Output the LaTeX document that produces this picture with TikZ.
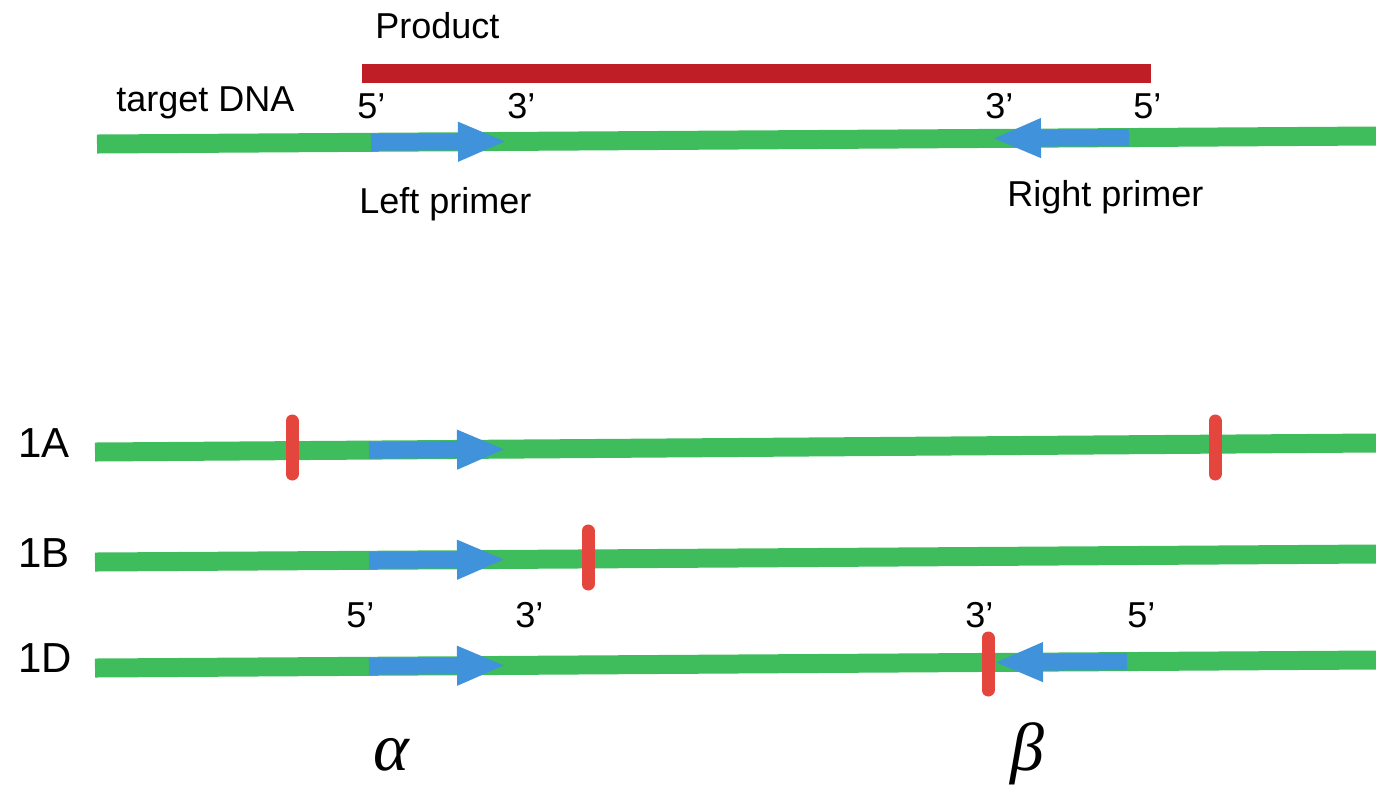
\documentclass[tikz,border=0pt]{standalone}
\usepackage{fontspec}
\setmainfont{Liberation Sans}
\newfontfamily\greekfont{Liberation Serif}
\usetikzlibrary{arrows.meta}
\definecolor{dnagreen}{RGB}{63,188,92}
\definecolor{primerblue}{RGB}{64,146,219}
\definecolor{productred}{RGB}{192,30,38}
\definecolor{tickred}{RGB}{228,69,60}
\tikzset{
  strand/.style={draw=dnagreen, line width=9.5pt},
  primer/.style={draw=primerblue, line width=8.5pt, -{Triangle[length=24.5pt,width=18pt]}},
  product/.style={draw=productred, line width=9.5pt},
  snp/.style={draw=tickred, line width=6.5pt, line cap=round},
  lbl/.style={inner sep=0pt, anchor=base west, font=\fontsize{18}{20}\selectfont},
  rowlbl/.style={inner sep=0pt, anchor=base west, font=\fontsize{21}{24}\selectfont},
  greek/.style={inner sep=0pt, anchor=base west, font=\greekfont\itshape\fontsize{34}{38}\selectfont}
}
\begin{document}
\begin{tikzpicture}[x=0.5pt,y=-0.5pt]
\useasboundingbox (0,0) rectangle (1376,784);
% top: target DNA
\coordinate (t0) at (97,144);
\coordinate (t1) at (1376,136);
\draw[strand] (t0) -- (t1);
\coordinate (p0) at (362,73);
\coordinate (p1) at (1151,73);
\draw[product] (p0) -- (p1);
\coordinate (la) at (371,142.3);
\coordinate (lb) at (507,141.4);
\draw[primer] (la) -- (lb);
\coordinate (ra) at (1129,137.5);
\coordinate (rb) at (992,138.4);
\draw[primer] (ra) -- (rb);
\node[lbl] (product) at (375,38) {Product};
\node[lbl] (target) at (116,111) {target DNA};
\node[lbl] (t5l) at (357,118) {5’};
\node[lbl] (t3l) at (507,118) {3’};
\node[lbl] (t3r) at (985,118) {3’};
\node[lbl] (t5r) at (1133,118) {5’};
\node[lbl] (leftp) at (359,213) {Left primer};
\node[lbl] (rightp) at (1007,206) {Right primer};
% 1A
\coordinate (a0) at (95,452);
\coordinate (a1) at (1376,443);
\draw[strand] (a0) -- (a1);
\coordinate (aa) at (369,450.2);
\coordinate (ab) at (506,449.3);
\draw[primer] (aa) -- (ab);
\coordinate (as1t) at (292,421);
\coordinate (as1b) at (292,474);
\draw[snp] (as1t) -- (as1b);
\coordinate (as2t) at (1215,421);
\coordinate (as2b) at (1215,474);
\draw[snp] (as2t) -- (as2b);
\node[rowlbl] (rA) at (18,457) {1A};
% 1B
\coordinate (b0) at (95,562);
\coordinate (b1) at (1376,554);
\draw[strand] (b0) -- (b1);
\coordinate (ba) at (369,560.3);
\coordinate (bb) at (506,559.4);
\draw[primer] (ba) -- (bb);
\coordinate (bs1t) at (588,531);
\coordinate (bs1b) at (588,584);
\draw[snp] (bs1t) -- (bs1b);
\node[rowlbl] (rB) at (18,567) {1B};
% 1D
\coordinate (d0) at (95,668);
\coordinate (d1) at (1376,660);
\draw[strand] (d0) -- (d1);
\coordinate (da) at (369,666.3);
\coordinate (db) at (506,665.4);
\draw[primer] (da) -- (db);
\coordinate (dra) at (1127,661.6);
\coordinate (drb) at (994,662.4);
\draw[primer] (dra) -- (drb);
\coordinate (ds1t) at (988,638);
\coordinate (ds1b) at (988,690);
\draw[snp] (ds1t) -- (ds1b);
\node[rowlbl] (rD) at (18,672) {1D};
\node[lbl] (d5l) at (346,627) {5’};
\node[lbl] (d3l) at (515,627) {3’};
\node[lbl] (d3r) at (965,627) {3’};
\node[lbl] (d5r) at (1127,627) {5’};
% greek
\node[greek] (alpha) at (373,770) {α};
\node[greek] (beta) at (1010,770) {β};
\end{tikzpicture}
\end{document}
